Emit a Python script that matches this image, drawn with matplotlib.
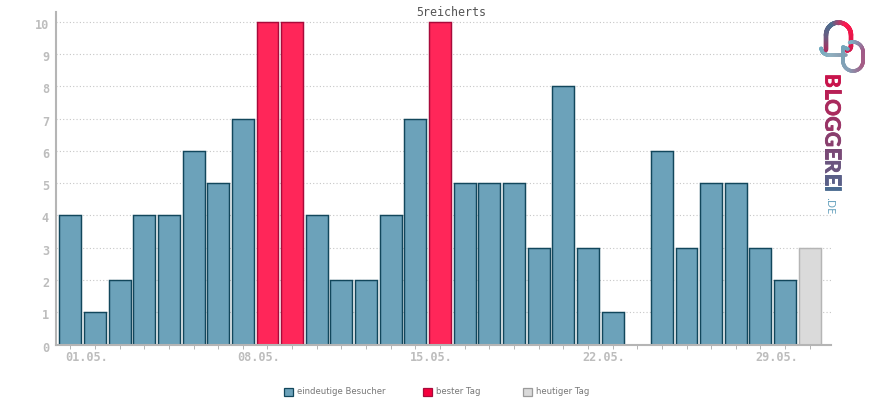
import numpy as np
import matplotlib
matplotlib.use('Agg')
import matplotlib.pyplot as plt
import matplotlib.patheffects as pe
from matplotlib.collections import LineCollection
from matplotlib.colors import to_rgb
from matplotlib.patches import Patch
from matplotlib.transforms import ScaledTranslation

visitors = [4, 1, 2, 4, 4, 6, 5, 7, 10, 10, 4, 2, 2, 4, 7, 10, 5, 5, 5, 3, 8, 3, 1, 0, 6, 3, 5, 5, 3, 2, 3]
best_days = [8, 9, 15]
today = 30
date_labels = ['01.05.', '08.05.', '15.05.', '22.05.', '29.05.']
date_positions = [0.65, 7.65, 14.65, 21.65, 28.65]
y_ticks = list(range(0, 11))
title = '5reicherts'
legend_labels = ['eindeutige Besucher', 'bester Tag', 'heutiger Tag']

BLUE, BLUE_EDGE = '#6ca2ba', '#12475c'
RED, RED_EDGE = '#ff2659', '#a80a3a'
GRAY, GRAY_EDGE = '#dadada', '#b5b5b5'
AXIS = '#b5b5b5'
LABEL = '#bdbdbd'

W, H = 870, 400
fig = plt.figure(figsize=(W / 100, H / 100), dpi=100)
ax = fig.add_axes([56 / W, 1 - 344.6 / H, (830.7 - 56) / W, (344.6 - 12) / H])

x = np.arange(len(visitors))
fills, edges = [], []
for i in x:
    if i in best_days:
        fills.append(RED), edges.append(RED_EDGE)
    elif i == today:
        fills.append(GRAY), edges.append(GRAY_EDGE)
    else:
        fills.append(BLUE), edges.append(BLUE_EDGE)
# a zero day has no bar outline at all
widths = [0 if v == 0 else 1.05 for v in visitors]
ax.bar(x, visitors, width=0.89, color=fills, edgecolor=edges, linewidth=widths, zorder=2)

ax.set_xlim(-0.58, 30.85)
ax.set_ylim(0, 10.3)
ax.set_yticks(y_ticks)
ax.grid(axis='y', color='#c6c6c6', linestyle=(0, (1, 2)), linewidth=0.8, zorder=1)
ax.set_axisbelow(True)

for s in ['top', 'right']:
    ax.spines[s].set_visible(False)
for s in ['left', 'bottom']:
    ax.spines[s].set_color(AXIS)
    ax.spines[s].set_linewidth(1.5)
    ax.spines[s].set_zorder(3)

ax.set_xticks(x)
ax.set_xticklabels([])
ax.tick_params(axis='x', which='major', length=3, width=0.7, color=AXIS)
ax.set_xticks(date_positions, minor=True)
ax.set_xticklabels(date_labels, minor=True, family='DejaVu Sans Mono', weight='bold', size=8.6, color=LABEL)
ax.tick_params(axis='x', which='minor', length=0, pad=4.5)
ax.tick_params(axis='y', length=0, pad=5, labelsize=8.6, labelcolor=LABEL)
offset = ScaledTranslation(0, -2 / 100, fig.dpi_scale_trans)
for lab in ax.get_yticklabels():
    lab.set_family('DejaVu Sans Mono')
    lab.set_weight('bold')
    lab.set_transform(lab.get_transform() + offset)

fig.text(451.5 / W, 1 - 12 / H, title, family='DejaVu Sans Mono', size=8.4, color='#555555', ha='center', va='center')

handles = [Patch(facecolor=BLUE, edgecolor=BLUE_EDGE, linewidth=0.9),
           Patch(facecolor='#f5003d', edgecolor=RED_EDGE, linewidth=0.9),
           Patch(facecolor=GRAY, edgecolor='#9a9a9a', linewidth=0.9)]
lx = [284, 423, 523]
for h, lab, px in zip(handles, legend_labels, lx):
    fig.legend([h], [lab], loc='center left', bbox_to_anchor=(px / W, 1 - 392 / H), frameon=False,
               borderpad=0, borderaxespad=0, handlelength=1.05, handleheight=1.05, handletextpad=0.45,
               prop={'family': 'DejaVu Sans', 'size': 6.1}, labelcolor='#777777')

# logo, drawn in pixel coordinates of the figure
over = fig.add_axes([0, 0, 1, 1], zorder=5)
over.set_xlim(0, W)
over.set_ylim(H, 0)
over.axis('off')
over.patch.set_alpha(0)


def blend(c1, c2, t):
    return tuple(a + (b - a) * t for a, b in zip(to_rgb(c1), to_rgb(c2)))


def arc(cx, cy, r, a0, a1):
    # angles in degrees, y axis points down
    a = np.radians(np.linspace(a0, a1, 30))
    return np.column_stack([cx + r * np.cos(a), cy + r * np.sin(a)])


def grad_path(parts, stops, lw):
    pts = np.vstack(parts)
    # resample so the colour runs evenly along the line
    d = np.r_[0, np.cumsum(np.hypot(*np.diff(pts, axis=0).T))]
    s = np.linspace(0, d[-1], 160)
    pts = np.column_stack([np.interp(s, d, pts[:, 0]), np.interp(s, d, pts[:, 1])])
    segs = np.stack([pts[:-1], pts[1:]], axis=1)
    pos = np.linspace(0, len(stops) - 1, len(segs))
    cols = []
    for p in pos:
        k = min(int(p), len(stops) - 2)
        cols.append(blend(stops[k], stops[k + 1], p - k))
    over.add_collection(LineCollection(segs, colors=cols, linewidths=lw, capstyle='round'))


grad_path([[(821, 48.5)], arc(829, 47, 8, 170, 90), [(846, 55)]], ['#6ea9bf', '#8fb0c0', '#8a9aae'], 2.6)
grad_path([[(826, 50)], arc(838.5, 35, 12.5, 180, 360), [(851, 46)], arc(846.5, 46, 4.5, 0, 90)],
          ['#b02a5c', '#6d5a80', '#4a6f90', '#ff1a50', '#e81548', '#d01a50'], 3.2)
grad_path([[(848, 49)], [(843, 47)], [(843, 60)], arc(853, 61, 10, 180, 0)[::-1][::-1], [(863, 52)],
           arc(853, 52, 10, 0, -110)],
          ['#6ea6bc', '#7ca2b6', '#86a0b6', '#a65d86', '#a05a88', '#7fb0c4'], 2.6)

word = 'BLOGGEREI'
r = fig.canvas.get_renderer()
ypos = 74.0
for i, ch in enumerate(word):
    t = i / (len(word) - 1)
    col = blend('#c8144c', '#4a6a90', t)
    tx = over.text(831.5, ypos, ch, rotation=270, family='Lato', weight='bold', size=15, color=col,
                   ha='center', va='top', path_effects=[pe.withStroke(linewidth=0.6, foreground=col)])
    ypos += tx.get_window_extent(r).height + 0.4
over.text(829, 197, '.DE', rotation=270, family='Open Sans', size=8, color='#5a9ab8', ha='center', va='top')

fig.savefig('out.png', dpi=100)
